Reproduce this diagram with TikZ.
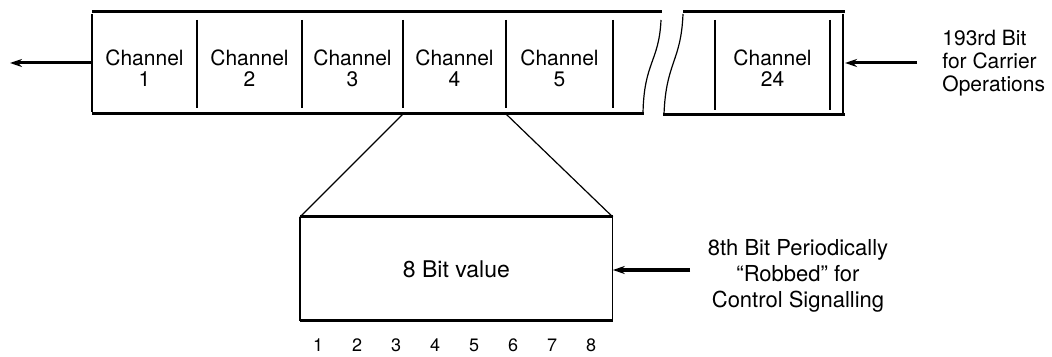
\documentclass[tikz,border=0pt]{standalone}
\usepackage{fontspec}
\setmainfont{TeX Gyre Heros}
\usetikzlibrary{arrows.meta,positioning}
\tikzset{
  thickedge/.style={line width=1.5pt},
  thinedge/.style={line width=0.6pt},
  feedarrow/.style={line width=1.5pt, -{Stealth[length=6pt,width=4pt]}},
  chlabel/.style={font=\fontsize{10.5}{10.5}\selectfont, align=center, inner sep=0pt},
}

\begin{document}
\begin{tikzpicture}[x=0.5pt,y=-0.5pt]
\useasboundingbox (0,0) rectangle (1052,357);
% Frame, left part
\draw[thickedge] (92,12) -- (662,12);
\draw[thickedge] (92,114) -- (644,114);
\draw[thinedge] (92,14) -- (92,112);
\foreach \x in {197,302,403,506,613}
  \draw[thinedge] (\x,20) -- (\x,108);
\draw[thinedge] (661,20) .. controls (659,62) and (644,62) .. (643,113);
% Frame, right part
\draw[thickedge] (683,12) -- (845,12);
\draw[thickedge] (663,115) -- (845,115);
\draw[thinedge] (683,14) .. controls (681,62) and (666,62) .. (664,114);
\foreach \x in {715,830}
  \draw[thinedge] (\x,20) -- (\x,110);
\draw[thinedge] (843,14) -- (843,113);
% Channel labels
\foreach \n/\x in {1/144.5,2/249.5,3/352.5,4/454.5,5/559.5,24/772.5}
  \node[chlabel] (ch\n) at (\x,68) {Channel\\\n};
% Outgoing and 193rd bit arrows
\coordinate (frameL) at (92,63);
\coordinate (outL) at (10,63);
\draw[feedarrow] (frameL) -- (outL);
\coordinate (frameR) at (845,63);
\node[font=\fontsize{10.5}{11.5}\selectfont, align=left, inner sep=0pt, anchor=west] (bit193) at (942,63) {193rd Bit\\for Carrier\\Operations};
\draw[feedarrow] (917,63) -- (frameR);
% Expanded channel
\coordinate (tl) at (403,114);
\coordinate (tr) at (506,114);
\node[minimum width=156pt, minimum height=51.5pt, inner sep=0pt, anchor=north west] (octet) at (300,217) {};
\draw[thickedge] (octet.north west) -- (octet.north east);
\draw[thickedge] (octet.south west) -- (octet.south east);
\draw[thinedge] (octet.north west) -- (octet.south west);
\draw[thinedge] (octet.north east) -- (octet.south east);
\draw[thinedge] (tl) -- (octet.north west);
\draw[thinedge] (tr) -- (octet.north east);
\node[font=\fontsize{11.5}{13}\selectfont] (val) at (octet.center) {8 Bit value};
% Robbed bit arrow
\node[font=\fontsize{11}{13}\selectfont, align=center, inner sep=0pt] (robbed) at (798,276) {8th Bit Periodically\\``Robbed'' for\\Control Signalling};
\coordinate (robbedtail) at (690,270);
\draw[feedarrow] (robbedtail) -- (octet.east |- robbedtail);
% Bit numbers
\foreach \i in {1,...,8}
  \node[font=\fontsize{9}{10}\selectfont] (b\i) at ({318+39*(\i-1)},345) {\i};
\end{tikzpicture}
\end{document}
